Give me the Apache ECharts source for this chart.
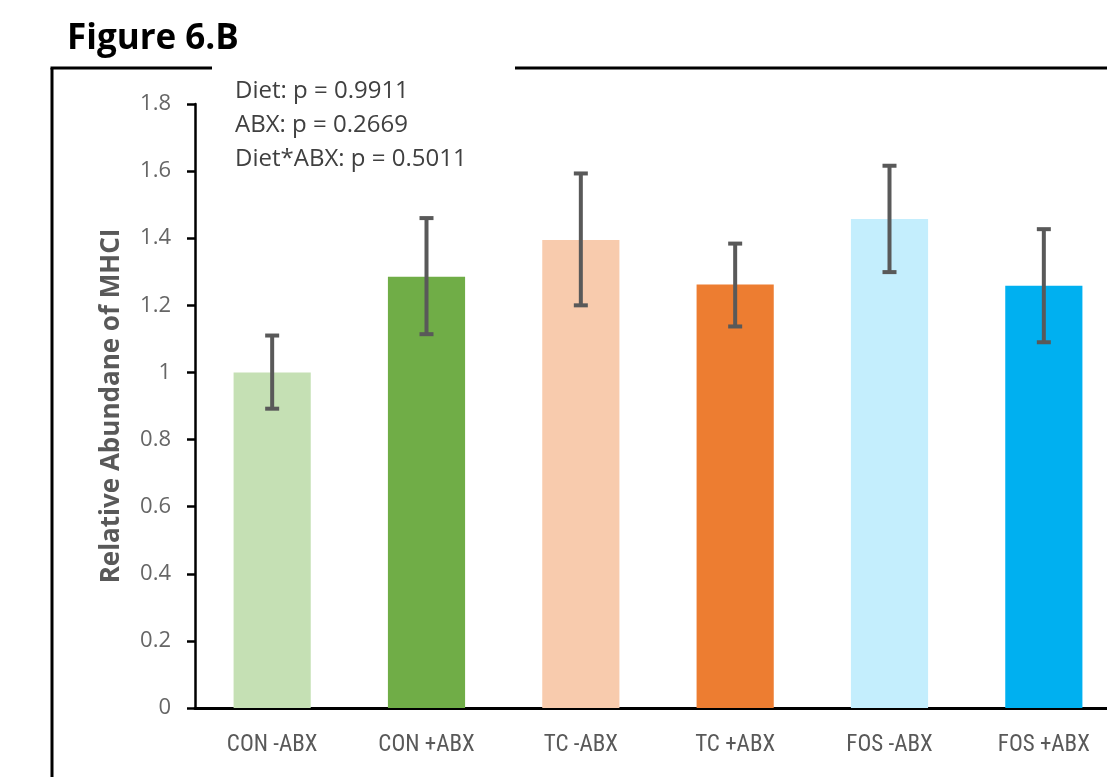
<!DOCTYPE html>
<html>
<head>
<meta charset="utf-8">
<script src="https://cdn.jsdelivr.net/npm/echarts@6/dist/echarts.min.js"></script>
<style>
html, body { margin: 0; padding: 0; background: #fff; }
#chart { width: 1107px; height: 777px; }
</style>
</head>
<body>
<div id="chart"></div>
<script>
// data
var groups = ['CON -ABX', 'CON +ABX', 'TC -ABX', 'TC +ABX', 'FOS -ABX', 'FOS +ABX'];
var means = [1.00, 1.285, 1.395, 1.262, 1.457, 1.258];
var errHigh = [1.11, 1.46, 1.593, 1.384, 1.616, 1.427];
var errLow = [0.892, 1.114, 1.200, 1.137, 1.299, 1.090];
var barColors = ['#C5E0B4', '#70AD47', '#F8CBAD', '#ED7D31', '#C4EEFD', '#00B0F0'];
var yTicks = [0, 0.2, 0.4, 0.6, 0.8, 1, 1.2, 1.4, 1.6, 1.8];
var statsLines = ['Diet: p = 0.9911', 'ABX: p = 0.2669', 'Diet*ABX: p = 0.5011'];

var myChart = echarts.init(document.getElementById('chart'));

var errData = groups.map(function (g, i) {
	return [i, errLow[i], errHigh[i]];
});

var option = {
	animation: false,
	backgroundColor: '#fff',
	title: {
		text: 'Figure 6.B',
		left: 62,
		top: 17,
		textStyle: { fontFamily: 'Open Sans', fontWeight: 'bold', fontSize: 35, color: '#000' }
	},
	// plot runs past the right edge of the picture, as in the original
	grid: { left: 195, top: 104, bottom: 69, width: 926, containLabel: false, outerBoundsMode: 'none' },
	xAxis: {
		type: 'category',
		data: groups,
		axisLine: { lineStyle: { color: '#000', width: 3 } },
		axisTick: { show: false },
		axisLabel: { color: '#595959', fontSize: 23, fontFamily: "'Liberation Sans Narrow', 'Roboto Condensed', Roboto", margin: 26 }
	},
	yAxis: {
		type: 'value',
		min: yTicks[0],
		max: yTicks[yTicks.length - 1],
		interval: 0.2,
		name: 'Relative Abundane of MHCI',
		nameLocation: 'middle',
		nameGap: 70,
		nameTextStyle: { color: '#595959', fontSize: 26, fontWeight: 'bold', fontFamily: 'Open Sans' },
		splitLine: { show: false },
		axisLine: { show: true, lineStyle: { color: '#000', width: 2.5 } },
		axisTick: { show: true, length: 8, lineStyle: { color: '#000', width: 2.5 } },
		axisLabel: { color: '#666', fontSize: 22, fontFamily: 'Open Sans', margin: 24,
			formatter: function (v) { return +v.toFixed(1) + ''; } }
	},
	graphic: [
		{ type: 'line', shape: { x1: 52, y1: 68, x2: 52, y2: 777 }, style: { stroke: '#000', lineWidth: 3 } },
		{ type: 'line', shape: { x1: 50.5, y1: 68, x2: 212, y2: 68 }, style: { stroke: '#000', lineWidth: 3 } },
		{ type: 'line', shape: { x1: 515, y1: 68, x2: 1107, y2: 68 }, style: { stroke: '#000', lineWidth: 3 } },
		{
			type: 'text', left: 235, top: 74,
			style: { text: statsLines.join('\n'), fontSize: 24, lineHeight: 34, fill: '#404040', fontFamily: 'Open Sans' }
		}
	],
	series: [
		{
			name: 'mean',
			type: 'bar',
			barWidth: '50%',
			data: means.map(function (v, i) {
				return { value: v, itemStyle: { color: barColors[i] } };
			})
		},
		{
			name: 'error',
			type: 'custom',
			data: errData,
			z: 5,
			renderItem: function (params, api) {
				var x = api.value(0);
				var lo = api.coord([x, api.value(1)]);
				var hi = api.coord([x, api.value(2)]);
				var cap = 7;
				var st = { stroke: '#595959', lineWidth: 4 };
				return {
					type: 'group',
					children: [
						{ type: 'line', shape: { x1: hi[0], y1: hi[1], x2: lo[0], y2: lo[1] }, style: st },
						{ type: 'line', shape: { x1: hi[0] - cap, y1: hi[1], x2: hi[0] + cap, y2: hi[1] }, style: st },
						{ type: 'line', shape: { x1: lo[0] - cap, y1: lo[1], x2: lo[0] + cap, y2: lo[1] }, style: st }
					]
				};
			}
		}
	]
};

myChart.setOption(option);
</script>
</body>
</html>
